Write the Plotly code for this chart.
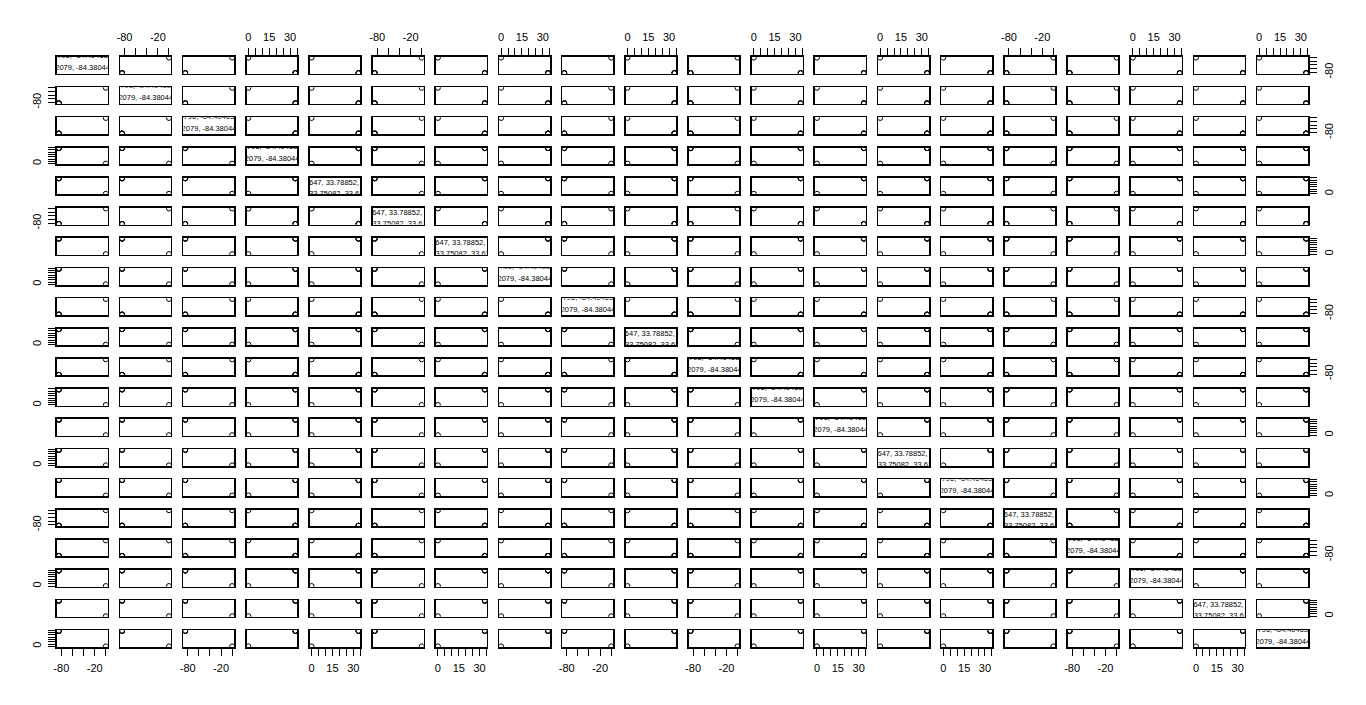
import plotly.graph_objects as go

# ---------------- data ----------------
VAR_TYPES = ["lon", "lon", "lon", "lat", "lat", "lon", "lat", "lat", "lon", "lat",
             "lon", "lat", "lat", "lat", "lat", "lon", "lon", "lat", "lat", "lat"]
DIAG_KIND = ["A", "A", "A", "A", "B", "B", "B", "A", "A", "B",
             "A", "A", "A", "B", "A", "B", "A", "A", "B", "A"]
LON_VALUES = [-84.38044, -84.39208, -84.38796, 0.0]
LAT_VALUES = [33.78647, 33.78852, 33.75082, 0.0]

LON_TICKS = [-80, -60, -40, -20, 0]
LON_XTICKTEXT = ["-80", "", "", "-20", ""]
LON_YTICKTEXT = ["-80", "", "", "", ""]
LAT_TICKS = [0, 5, 10, 15, 20, 25, 30, 35]
LAT_XTICKTEXT = ["0", "", "", "15", "", "", "30", ""]
LAT_YTICKTEXT = ["0", "", "", "", "", "", "", ""]

DIAG_LINES = {
    "A": ["-84.45796, -84.40463, -84.39", "-84.392079, -84.38044, -84.39"],
    "B": ["33.78647, 33.78852, 33.7", "33.75082, 33.61795, 33.7"],
}

# ---------------- style ----------------
W, H = 1366, 705
ML, MR, MT, MB = 57, 58, 57, 58
PW, PH = W - ML - MR, H - MT - MB
N = len(VAR_TYPES)
PANEL_W, PANEL_H = 50.7, 16.7
PITCH_X = (PW - PANEL_W) / (N - 1)
PITCH_Y = (PH - PANEL_H) / (N - 1)
FONT = "Liberation Sans, Arial, sans-serif"
DIAG_FONT_SIZE = 7.5
# per-line horizontal hidden offset (px) and baseline from panel top (px)
DIAG_STYLE = {"A": {"dx": [21.0, 23.0], "base": [1.2, 13.2]},
              "B": {"dx": [19.5, 0.5], "base": [7.0, 18.0]}}

VALUES = {"lon": LON_VALUES, "lat": LAT_VALUES}


def rng(vals):
    lo, hi = min(vals), max(vals)
    pad = 0.04 * (hi - lo)
    return [lo - pad, hi + pad]


RANGES = {k: rng(v) for k, v in VALUES.items()}
TICKS = {"lon": (LON_TICKS, LON_XTICKTEXT, LON_YTICKTEXT),
         "lat": (LAT_TICKS, LAT_XTICKTEXT, LAT_YTICKTEXT)}

fig = go.Figure()
layout = {}

for i in range(N):
    ytype = VAR_TYPES[i]
    top = 1 - i * PITCH_Y / PH
    ydom = [max(0.0, top - PANEL_H / PH), min(1.0, top)]
    for j in range(N):
        xtype = VAR_TYPES[j]
        k = i * N + j + 1
        xdom = [max(0.0, j * PITCH_X / PW), min(1.0, (j * PITCH_X + PANEL_W) / PW)]
        xname = "xaxis" if k == 1 else f"xaxis{k}"
        yname = "yaxis" if k == 1 else f"yaxis{k}"
        xref = "x" if k == 1 else f"x{k}"
        yref = "y" if k == 1 else f"y{k}"

        common = dict(showgrid=False, zeroline=False, showline=True, mirror=True,
                      linecolor="black", linewidth=1.6, fixedrange=True,
                      tickfont=dict(family=FONT, size=11, color="black"))
        xa = dict(common, domain=xdom, anchor=yref, range=RANGES[xtype])
        ya = dict(common, domain=ydom, anchor=xref, range=RANGES[ytype])

        tv, xt, _ = TICKS[xtype]
        if i == 0 and j % 2 == 1:
            xa.update(side="top", ticks="outside", ticklen=7, tickwidth=1, tickcolor="black",
                      tickvals=tv, ticktext=xt, tickangle=0, ticklabelstandoff=3)
        elif i == N - 1 and j % 2 == 0:
            xa.update(side="bottom", ticks="outside", ticklen=7, tickwidth=1, tickcolor="black",
                      tickvals=tv, ticktext=xt, tickangle=0, ticklabelstandoff=3)
        else:
            xa.update(ticks="", showticklabels=False)

        tv, _, yt = TICKS[ytype]
        if j == 0 and i % 2 == 1:
            ya.update(side="left", ticks="outside", ticklen=7, tickwidth=1, tickcolor="black",
                      tickvals=tv, ticktext=yt, tickangle=-90, ticklabelstandoff=3)
        elif j == N - 1 and i % 2 == 0:
            ya.update(side="right", ticks="outside", ticklen=7, tickwidth=1, tickcolor="black",
                      tickvals=tv, ticktext=yt, tickangle=-90, ticklabelstandoff=3)
        else:
            ya.update(ticks="", showticklabels=False)

        layout[xname] = xa
        layout[yname] = ya

        if i != j:
            fig.add_trace(go.Scatter(
                x=VALUES[xtype], y=VALUES[ytype], mode="markers", xaxis=xref, yaxis=yref,
                cliponaxis=True, hoverinfo="skip", showlegend=False,
                marker=dict(symbol="circle-open", size=5, color="black",
                            line=dict(width=1, color="black"))))
        else:
            kind = DIAG_KIND[i]
            st = DIAG_STYLE[kind]
            xr, yr = RANGES[xtype], RANGES[ytype]
            xs, ys = [], []
            for dx, base in zip(st["dx"], st["base"]):
                xs.append(xr[0] - dx * (xr[1] - xr[0]) / PANEL_W)
                py = base - 0.25 * DIAG_FONT_SIZE
                ys.append(yr[1] - py * (yr[1] - yr[0]) / PANEL_H)
            fig.add_trace(go.Scatter(
                x=xs, y=ys, mode="text", text=DIAG_LINES[kind], textposition="middle right",
                xaxis=xref, yaxis=yref, cliponaxis=True, hoverinfo="skip", showlegend=False,
                textfont=dict(family=FONT, size=DIAG_FONT_SIZE, color="black")))

fig.update_layout(
    width=W, height=H, autosize=False,
    margin=dict(l=ML, r=MR, t=MT, b=MB, pad=0),
    paper_bgcolor="white", plot_bgcolor="white",
    showlegend=False, font=dict(family=FONT, color="black"),
    **layout)

fig.write_html("out.html", config={"displayModeBar": False, "staticPlot": True})
